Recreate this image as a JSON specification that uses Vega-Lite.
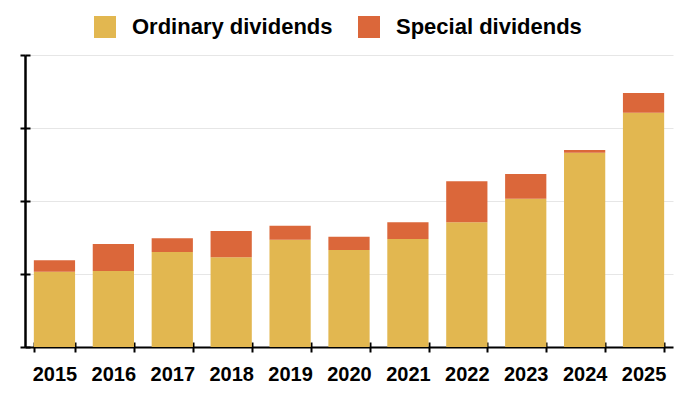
{
  "$schema": "https://vega.github.io/schema/vega-lite/v6.json",
  "width": 648,
  "height": 292,
  "autosize": "none",
  "padding": {"left": 25, "top": 55, "right": 27, "bottom": 53},
  "background": "white",
  "config": {
    "view": {"stroke": null},
    "font": "Liberation Sans"
  },
  "data": {
    "values": [
      {"year": "2015", "type": "Ordinary dividends", "value": 1.03},
      {"year": "2015", "type": "Special dividends", "value": 0.16},
      {"year": "2016", "type": "Ordinary dividends", "value": 1.04},
      {"year": "2016", "type": "Special dividends", "value": 0.37},
      {"year": "2017", "type": "Ordinary dividends", "value": 1.30},
      {"year": "2017", "type": "Special dividends", "value": 0.19},
      {"year": "2018", "type": "Ordinary dividends", "value": 1.23},
      {"year": "2018", "type": "Special dividends", "value": 0.36},
      {"year": "2019", "type": "Ordinary dividends", "value": 1.47},
      {"year": "2019", "type": "Special dividends", "value": 0.19},
      {"year": "2020", "type": "Ordinary dividends", "value": 1.33},
      {"year": "2020", "type": "Special dividends", "value": 0.18},
      {"year": "2021", "type": "Ordinary dividends", "value": 1.48},
      {"year": "2021", "type": "Special dividends", "value": 0.23},
      {"year": "2022", "type": "Ordinary dividends", "value": 1.71},
      {"year": "2022", "type": "Special dividends", "value": 0.56},
      {"year": "2023", "type": "Ordinary dividends", "value": 2.03},
      {"year": "2023", "type": "Special dividends", "value": 0.34},
      {"year": "2024", "type": "Ordinary dividends", "value": 2.66},
      {"year": "2024", "type": "Special dividends", "value": 0.04},
      {"year": "2025", "type": "Ordinary dividends", "value": 3.21},
      {"year": "2025", "type": "Special dividends", "value": 0.27}
    ]
  },
  "layer": [
    {
      "mark": {"type": "bar", "strokeWidth": 0},
      "encoding": {
        "x": {
          "field": "year",
          "type": "ordinal",
          "title": null,
          "scale": {"paddingInner": 0.3, "paddingOuter": 0.15},
          "axis": {
            "orient": "bottom",
            "labelAngle": 0,
            "tickBand": "extent",
            "domainColor": "black",
            "domainWidth": 2,
            "tickColor": "black",
            "tickWidth": 2,
            "tickSize": 5,
            "labelPadding": 12,
            "labelFont": "Liberation Sans",
            "labelFontSize": 20,
            "labelFontWeight": "bold",
            "labelColor": "black"
          }
        },
        "y": {
          "field": "value",
          "type": "quantitative",
          "stack": "zero",
          "title": null,
          "scale": {"domain": [0, 4], "nice": false},
          "axis": {
            "orient": "left",
            "values": [0, 1, 2, 3, 4],
            "labels": false,
            "domainColor": "black",
            "domainWidth": 2.5,
            "tickColor": "black",
            "tickWidth": 2,
            "tickSize": 5,
            "grid": true,
            "gridColor": "#e6e6e6",
            "gridWidth": 1
          }
        },
        "color": {
          "field": "type",
          "type": "nominal",
          "scale": {
            "domain": ["Ordinary dividends", "Special dividends"],
            "range": ["#E2B750", "#DB673A"]
          },
          "legend": {
            "title": null,
            "orient": "none",
            "direction": "horizontal",
            "legendX": 69,
            "legendY": -39,
            "symbolType": "square",
            "symbolSize": 484,
            "symbolStrokeWidth": 0,
            "symbolOpacity": 1,
            "labelFont": "Liberation Sans",
            "labelFontSize": 22,
            "labelFontWeight": "bold",
            "labelColor": "black",
            "labelLimit": 400,
            "labelOffset": 16,
            "columnPadding": 25
          }
        },
        "order": {"field": "type", "sort": "ascending"}
      }
    },
    {
      "mark": {"type": "bar", "opacity": 0},
      "encoding": {
        "x": {
          "field": "year",
          "type": "ordinal",
          "title": null,
          "axis": {
            "orient": "bottom",
            "tickBand": "extent",
            "domain": false,
            "labels": false,
            "grid": false,
            "tickColor": "black",
            "tickWidth": 2,
            "tickSize": -5
          }
        },
        "y": {
          "field": "value",
          "type": "quantitative",
          "stack": "zero",
          "title": null,
          "axis": {
            "orient": "left",
            "values": [0, 1, 2, 3, 4],
            "domain": false,
            "labels": false,
            "grid": false,
            "tickColor": "black",
            "tickWidth": 2,
            "tickSize": -5
          }
        }
      }
    }
  ],
  "resolve": {"axis": {"x": "independent", "y": "independent"}}
}
